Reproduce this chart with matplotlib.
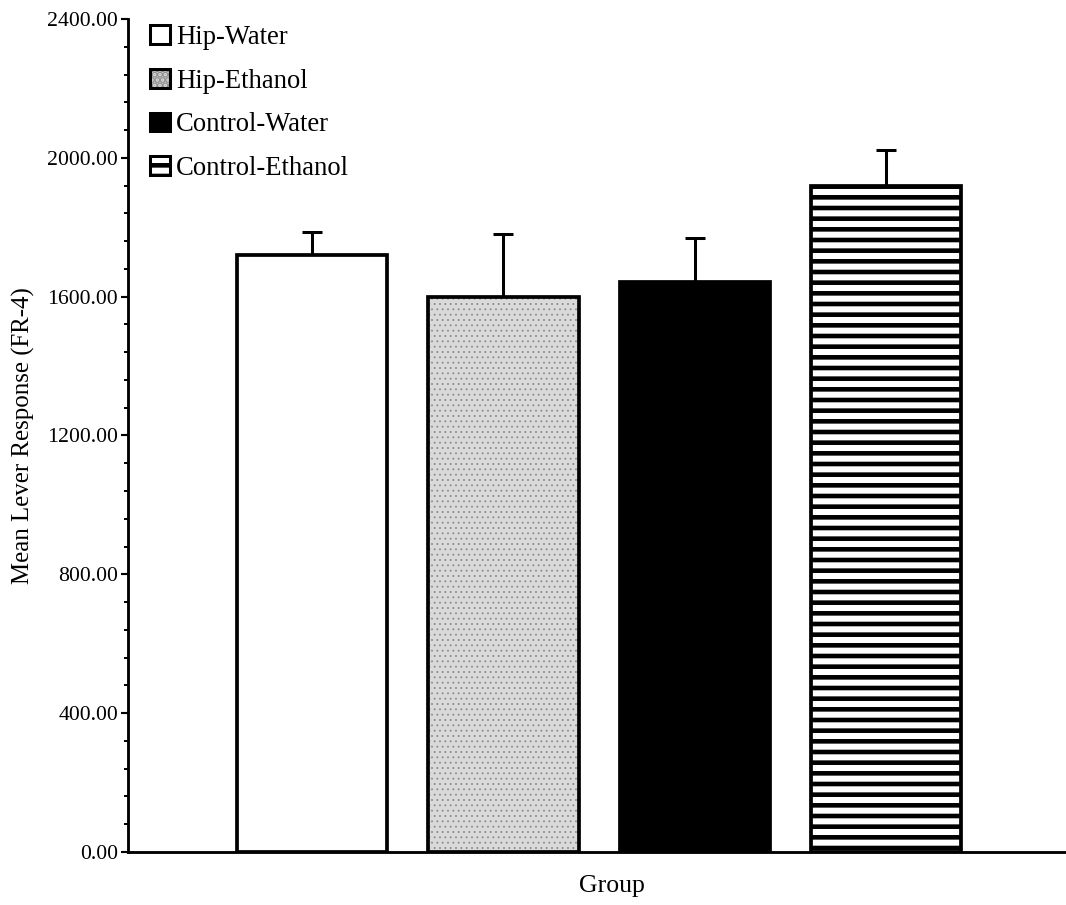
import numpy as np
import matplotlib
matplotlib.use('Agg')
import matplotlib.pyplot as plt

# group means and upper standard error bars
groups = ['Hip-Water', 'Hip-Ethanol', 'Control-Water', 'Control-Ethanol']
means = [1720, 1600, 1642, 1918]
errors = [66, 180, 126, 106]
yticks = [0, 400, 800, 1200, 1600, 2000, 2400]

plt.rcParams['font.family'] = ['Liberation Serif', 'DejaVu Serif']

dpi = 64
fig = plt.figure(figsize=(1066 / dpi, 905 / dpi), dpi=dpi)
ax = fig.add_axes([0.120, 0.0586, 0.880, 0.9204])

x = np.arange(len(groups))
w = 0.785
styles = [
    dict(facecolor='white', hatch=None, hcolor='black', hlw=5.2),
    dict(facecolor='#dadada', hatch='..', hcolor='#8c8c8c', hlw=1.0),
    dict(facecolor='black', hatch=None, hcolor='black', hlw=5.2),
    dict(facecolor='white', hatch='-', hcolor='black', hlw=5.2),
]

handles = []
for i, (g, m, s) in enumerate(zip(groups, means, styles)):
    plt.rcParams['hatch.linewidth'] = s['hlw']
    # fill + hatch layer
    ax.bar(x[i], m, width=w, facecolor=s['facecolor'], hatch=s['hatch'],
           edgecolor=s['hcolor'], linewidth=0, zorder=2)
    # outline layer
    ax.bar(x[i], m, width=w, fill=False, edgecolor='black', linewidth=4.2, zorder=3)
    fill = plt.Rectangle((0, 0), 1, 1, facecolor=s['facecolor'], hatch=s['hatch'],
                         edgecolor=s['hcolor'], linewidth=0)
    edge = plt.Rectangle((0, 0), 1, 1, fill=False, edgecolor='black', linewidth=3.4)
    handles.append((fill, edge))

ax.errorbar(x, means, yerr=[np.zeros(len(errors)), errors], fmt='none',
            ecolor='black', elinewidth=3.4, capsize=11, capthick=3.4, zorder=1)

ax.set_xlim(-0.963, 3.94)
ax.set_ylim(0, 2400)
ax.set_yticks(yticks)
ax.set_yticklabels([f'{v:.2f}' for v in yticks], fontsize=24.5)
ax.set_yticks(np.arange(0, 2401, 80), minor=True)
ax.set_xticks([])

for side in ['top', 'right']:
    ax.spines[side].set_visible(False)
ax.spines['left'].set_linewidth(3.2)
ax.spines['bottom'].set_linewidth(3.2)
ax.tick_params(axis='y', which='major', length=8, width=2.4, direction='out', pad=3)
ax.tick_params(axis='y', which='minor', length=5, width=2.2, direction='out')

ax.set_ylabel('Mean Lever Response (FR-4)', fontsize=28, labelpad=14)
ax.set_xlabel('Group', fontsize=29)
ax.xaxis.set_label_coords(0.516, -0.028)

ax.legend(handles, groups, loc='upper left', bbox_to_anchor=(0.024, 0.993),
          frameon=False, fontsize=30, handlelength=0.75, handleheight=0.7,
          handletextpad=0.2, labelspacing=0.7, borderaxespad=0, borderpad=0)

fig.savefig('out.png', dpi=dpi)
